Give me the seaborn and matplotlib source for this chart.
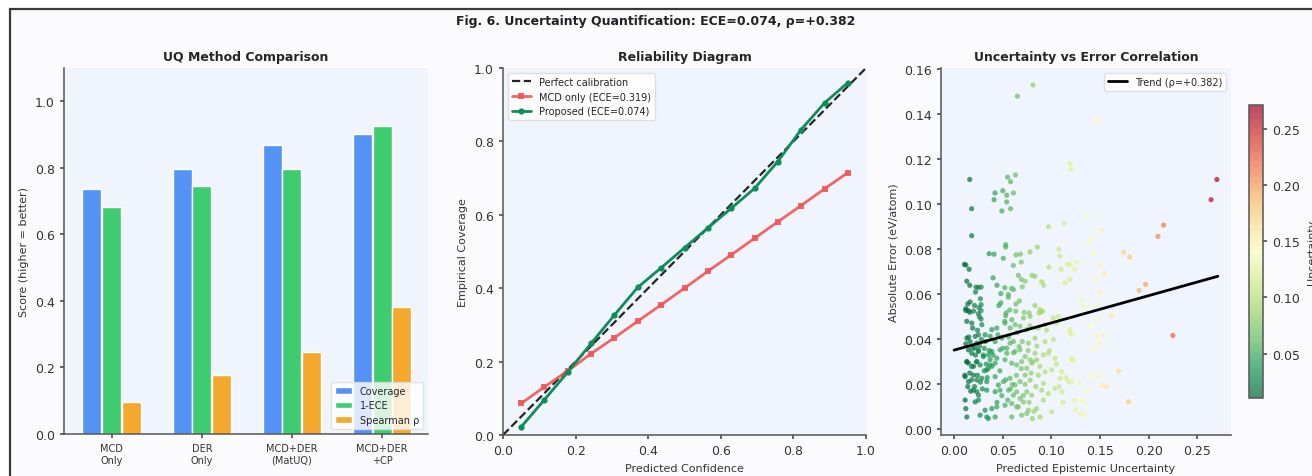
import matplotlib
matplotlib.use("Agg")
import matplotlib.pyplot as plt
import matplotlib.patches as mpatches
from matplotlib.colors import Normalize
from matplotlib.cm import ScalarMappable
import seaborn as sns
import pandas as pd

# --- datos panel 1: comparacion de metodos ---
metodos = ["MCD\nOnly", "DER\nOnly", "MCD+DER\n(MatUQ)", "MCD+DER\n+CP"]
coverage = [0.737, 0.796, 0.868, 0.903]
uno_menos_ece = [0.681, 0.746, 0.796, 0.926]
spearman = [0.097, 0.176, 0.247, 0.382]

# --- datos panel 2: diagrama de fiabilidad ---
confianza = [0.050, 0.114, 0.179, 0.243, 0.307, 0.371, 0.436, 0.500,
             0.564, 0.629, 0.693, 0.757, 0.821, 0.886, 0.950]
cob_mcd = [0.086, 0.131, 0.175, 0.222, 0.265, 0.310, 0.355, 0.400,
           0.446, 0.491, 0.536, 0.581, 0.625, 0.671, 0.715]
cob_propuesto = [0.022, 0.096, 0.172, 0.250, 0.327, 0.402, 0.456, 0.510,
                 0.564, 0.618, 0.672, 0.745, 0.832, 0.905, 0.960]

# --- datos panel 3: incertidumbre vs error ---
incert = [
    0.081, 0.065, 0.148, 0.119, 0.120, 0.270, 0.264, 0.016, 0.018, 0.018,
    0.055, 0.058, 0.063, 0.042, 0.050, 0.061, 0.041, 0.054, 0.054, 0.049, 0.058,
    0.097, 0.113, 0.053, 0.053, 0.036, 0.041, 0.0505, 0.0635, 0.068, 0.078, 0.0855, 0.1076, 0.1086,
    0.0106, 0.0154, 0.012, 0.0608, 0.069, 0.0973, 0.110, 0.1165,
    0.013, 0.066, 0.069, 0.073, 0.080, 0.083, 0.040, 0.044, 0.090, 0.092, 0.114, 0.119,
    0.0225, 0.0277, 0.048, 0.052, 0.059, 0.061, 0.070,
    0.048, 0.0635, 0.0557, 0.0557,
    0.014, 0.0164, 0.0277, 0.0256, 0.012, 0.0147, 0.0277,
    0.088, 0.090, 0.0533, 0.077,
    0.1366, 0.1513, 0.142, 0.1387, 0.2152, 0.2094, 0.1434, 0.1742, 0.1803,
    0.1257, 0.1189, 0.124, 0.1189, 0.1496, 0.1547, 0.1452, 0.1967, 0.19, 0.1496,
    0.1308, 0.1332, 0.1427, 0.1616,
    0.149, 0.1404, 0.2247, 0.1462, 0.153, 0.149, 0.1434, 0.1206, 0.1223, 0.169,
    0.141, 0.149, 0.1206, 0.129, 0.1366, 0.1513, 0.1564, 0.1793, 0.124, 0.1318,
    0.134, 0.1247, 0.130, 0.1332, 0.1189,
    0.0120, 0.0199, 0.0250, 0.0277, 0.0530, 0.0592, 0.0633, 0.0712, 0.0780, 0.0872,
    0.0906, 0.1019, 0.1071,
    0.0181, 0.0284, 0.0387, 0.0438, 0.0523, 0.0575, 0.0626, 0.0677, 0.0746, 0.0865,
    0.0934, 0.1054, 0.1190,
    0.0130, 0.0164, 0.0216, 0.0250, 0.0233, 0.0318, 0.0370, 0.0421, 0.0489, 0.0575,
    0.0541, 0.0609, 0.0667, 0.0763, 0.0831, 0.0934, 0.1207,
    0.0147, 0.0181, 0.0216, 0.0250, 0.0301, 0.0352, 0.0387, 0.0438, 0.0472, 0.0541,
    0.0626, 0.0677, 0.0729, 0.0780, 0.0831, 0.0917, 0.0968, 0.1036, 0.1207,
    0.0130, 0.0147, 0.0181, 0.0233, 0.0267, 0.0335, 0.0370, 0.0421, 0.0523, 0.0592,
    0.0643, 0.0694, 0.0746, 0.0797, 0.0848, 0.0934, 0.1002, 0.1105,
    0.0113, 0.0147, 0.0199, 0.0233, 0.0284, 0.0335, 0.0421, 0.0455, 0.0506, 0.0575,
    0.0626, 0.0677, 0.0729, 0.0780, 0.0865, 0.0917, 0.1088, 0.1173,
    0.0113, 0.0199, 0.0233, 0.0250, 0.0335, 0.0421, 0.0472, 0.0558, 0.0609, 0.0643,
    0.0677, 0.0746, 0.0797, 0.0900, 0.0968, 0.1036, 0.1105,
    0.0120, 0.0216, 0.0250, 0.0318, 0.0387, 0.0438, 0.0523, 0.0592, 0.0643, 0.0712,
    0.0763, 0.0848, 0.0917, 0.1002,
    0.0130, 0.0267, 0.0335, 0.0352, 0.0421, 0.0592, 0.0694, 0.0746, 0.0804, 0.0882,
    0.012, 0.015, 0.019, 0.022, 0.026, 0.028, 0.031, 0.033, 0.035, 0.037,
    0.013, 0.016, 0.018, 0.021, 0.024, 0.027, 0.029, 0.031, 0.034, 0.039,
    0.011, 0.014, 0.017, 0.020, 0.023, 0.025, 0.030, 0.032, 0.036, 0.040,
    0.019, 0.024, 0.013, 0.016, 0.021, 0.026, 0.022, 0.027, 0.025, 0.016,
    0.045, 0.050, 0.056, 0.061, 0.065, 0.070, 0.076, 0.081, 0.085, 0.047,
    0.053, 0.058, 0.064, 0.069, 0.073, 0.079, 0.084, 0.088, 0.044, 0.049,
    0.055, 0.060, 0.066, 0.071, 0.077, 0.082, 0.046, 0.052, 0.057, 0.067,
    0.072, 0.078, 0.083, 0.095, 0.098, 0.102, 0.105, 0.108, 0.112, 0.115,
]
error_abs = [
    0.153, 0.148, 0.137, 0.118, 0.1155, 0.111, 0.102, 0.111, 0.098, 0.086,
    0.112, 0.110, 0.113, 0.105, 0.106, 0.105, 0.102, 0.104, 0.101, 0.097, 0.098,
    0.090, 0.0915, 0.082, 0.081, 0.078, 0.0778, 0.076, 0.0775, 0.0778, 0.0788, 0.081, 0.080, 0.077,
    0.0733, 0.0711, 0.073, 0.0728, 0.0743, 0.0721, 0.0711, 0.0733,
    0.0658, 0.0684, 0.0666, 0.0658, 0.0684, 0.068, 0.0673, 0.064, 0.0656, 0.064, 0.0651, 0.0666,
    0.0632, 0.0632, 0.0603, 0.0629, 0.0626, 0.0621, 0.0633,
    0.0562, 0.0557, 0.0599, 0.0587,
    0.0557, 0.0566, 0.0554, 0.054, 0.0536, 0.0527, 0.0527,
    0.0532, 0.0521, 0.0517, 0.0517,
    0.0944, 0.0885, 0.0855, 0.0837, 0.0907, 0.0857, 0.0785, 0.0787, 0.0766,
    0.0743, 0.0733, 0.0711, 0.0666, 0.0728, 0.0691, 0.0669, 0.0644, 0.0617, 0.0609,
    0.0577, 0.0547, 0.0547, 0.0505,
    0.049, 0.0462, 0.0417, 0.0416, 0.0416, 0.0383, 0.0359, 0.0316, 0.0308, 0.0259,
    0.0234, 0.0234, 0.0211, 0.0204, 0.0174, 0.0194, 0.0192, 0.0122, 0.013, 0.013,
    0.0118, 0.0088, 0.007, 0.0063, 0.0429,
    0.0528, 0.0525, 0.0514, 0.0490, 0.0505, 0.0487, 0.0525, 0.0495, 0.0502, 0.0517,
    0.0525, 0.0495, 0.0502,
    0.0472, 0.0465, 0.0443, 0.0450, 0.0472, 0.0450, 0.0465, 0.0458, 0.0443, 0.0450,
    0.0465, 0.0472, 0.0443,
    0.0405, 0.0390, 0.0413, 0.0420, 0.0383, 0.0420, 0.0413, 0.0390, 0.0405, 0.0383,
    0.0361, 0.0390, 0.0368, 0.0383, 0.0405, 0.0390, 0.0420,
    0.0353, 0.0338, 0.0361, 0.0346, 0.0323, 0.0331, 0.0346, 0.0316, 0.0353, 0.0338,
    0.0346, 0.0353, 0.0323, 0.0309, 0.0338, 0.0331, 0.0338, 0.0316, 0.0309,
    0.0301, 0.0294, 0.0279, 0.0301, 0.0286, 0.0264, 0.0286, 0.0294, 0.0309, 0.0294,
    0.0286, 0.0301, 0.0271, 0.0294, 0.0309, 0.0256, 0.0264, 0.0256,
    0.0234, 0.0212, 0.0241, 0.0219, 0.0227, 0.0212, 0.0234, 0.0197, 0.0212, 0.0227,
    0.0197, 0.0212, 0.0241, 0.0219, 0.0241, 0.0204, 0.0227, 0.0212,
    0.0130, 0.0174, 0.0167, 0.0152, 0.0174, 0.0167, 0.0174, 0.0174, 0.0152, 0.0167,
    0.0137, 0.0167, 0.0152, 0.0174, 0.0159, 0.0182, 0.0167,
    0.0092, 0.0122, 0.0130, 0.0085, 0.0092, 0.0100, 0.0107, 0.0115, 0.0100, 0.0122,
    0.0085, 0.0092, 0.0130, 0.0078,
    0.0055, 0.0063, 0.0055, 0.0048, 0.0055, 0.0055, 0.0063, 0.0070, 0.0048, 0.0055,
    0.038, 0.041, 0.036, 0.033, 0.037, 0.040, 0.036, 0.029, 0.027, 0.031,
    0.030, 0.025, 0.022, 0.019, 0.024, 0.021, 0.018, 0.026, 0.023, 0.028,
    0.024, 0.019, 0.017, 0.028, 0.030, 0.035, 0.033, 0.039, 0.035, 0.033,
    0.045, 0.044, 0.048, 0.052, 0.055, 0.050, 0.061, 0.058, 0.063, 0.064,
    0.042, 0.036, 0.041, 0.034, 0.043, 0.039, 0.035, 0.030, 0.037, 0.026,
    0.022, 0.018, 0.024, 0.027, 0.020, 0.025, 0.019, 0.028, 0.012, 0.015,
    0.013, 0.020, 0.010, 0.015, 0.012, 0.008, 0.055, 0.048, 0.053, 0.057,
    0.052, 0.046, 0.055, 0.044, 0.035, 0.040, 0.029, 0.019, 0.012, 0.023,
]
tendencia_x = [0.0, 0.271]
tendencia_y = [0.0352, 0.0680]

# --- estilo ---
sns.set_theme(style="ticks")
plt.rcParams["font.family"] = ["DejaVu Sans"]
plt.rcParams["axes.facecolor"] = "#f0f4fd"
plt.rcParams["axes.edgecolor"] = "#555555"
plt.rcParams["axes.linewidth"] = 1.1
plt.rcParams["xtick.color"] = "#555555"
plt.rcParams["ytick.color"] = "#555555"
plt.rcParams["xtick.labelcolor"] = "#333333"
plt.rcParams["ytick.labelcolor"] = "#333333"

TIT = 9
LAB = 8
TICK = 9
LEG = 7

fig = plt.figure(figsize=(13.12, 4.77), dpi=100, facecolor="white")

# marco de la captura (por detras de todo)
fig.patches.append(mpatches.Rectangle((10 / 1312, -0.1), 1.2, 1.1 - 10 / 477,
                                      transform=fig.transFigure, facecolor="#fbfbfd",
                                      edgecolor="#3a3a3a", linewidth=1.6, zorder=-10))

fig.text(0.5, 1 - 22 / 477, "Fig. 6. Uncertainty Quantification: ECE=0.074, ρ=+0.382",
         ha="center", va="center", fontsize=TIT, fontweight="bold", color="#222222")

ax1 = fig.add_axes([64 / 1312, 42 / 477, 364 / 1312, 366 / 477])
ax2 = fig.add_axes([503 / 1312, 41 / 477, 363 / 1312, 367 / 477])
ax3 = fig.add_axes([941 / 1312, 41 / 477, 290 / 1312, 367 / 477])
cax = fig.add_axes([1249 / 1312, 78 / 477, 14 / 1312, 293 / 477])

# --- 1. barras ---
df_barras = pd.DataFrame({
    "Metodo": metodos * 3,
    "Score": coverage + uno_menos_ece + spearman,
    "Metrica": ["Coverage"] * 4 + ["1-ECE"] * 4 + ["Spearman ρ"] * 4,
})
sns.barplot(data=df_barras, x="Metodo", y="Score", hue="Metrica",
            palette=["#5592f5", "#3fcb6f", "#f5a82e"], width=0.66, gap=0.04,
            saturation=1, ax=ax1)
ax1.set_ylim(0, 1.1)
ax1.set_xlim(-0.53, 3.51)
ax1.set_title("UQ Method Comparison", fontsize=TIT, fontweight="bold", pad=6)
ax1.set_ylabel("Score (higher = better)", fontsize=LAB, color="#333333")
ax1.set_xlabel("")
ax1.tick_params(axis="x", labelsize=7, length=3)
ax1.tick_params(axis="y", labelsize=TICK, length=3)
ax1.legend(loc="lower right", fontsize=LEG, frameon=True, framealpha=0.8,
           facecolor="white", edgecolor="#dddddd", handlelength=1.8)

# --- 2. diagrama de fiabilidad ---
ax2.plot([0, 1], [0, 1], linestyle="--", color="black", linewidth=1.6, alpha=0.85,
         label="Perfect calibration")
sns.lineplot(x=confianza, y=cob_mcd, color="#f05656", marker="s", markersize=4.5,
             markeredgewidth=0, linewidth=2, alpha=0.9, label="MCD only (ECE=0.319)", ax=ax2)
sns.lineplot(x=confianza, y=cob_propuesto, color="#0f8c5c", marker="o", markersize=4.5,
             markeredgewidth=0, linewidth=2, label="Proposed (ECE=0.074)", ax=ax2)
ax2.set_xlim(0, 1)
ax2.set_ylim(0, 1)
ax2.set_title("Reliability Diagram", fontsize=TIT, fontweight="bold", pad=6)
ax2.set_xlabel("Predicted Confidence", fontsize=LAB, color="#333333")
ax2.set_ylabel("Empirical Coverage", fontsize=LAB, color="#333333")
ax2.tick_params(labelsize=TICK, length=3)
ax2.legend(loc="upper left", fontsize=LEG, frameon=True, facecolor="white",
           edgecolor="#dddddd", framealpha=0.9)

# --- 3. incertidumbre vs error ---
vmin, vmax = 0.0104, 0.2714
norma = Normalize(vmin=vmin, vmax=vmax)
df_sc = pd.DataFrame({"u": incert, "e": error_abs})
sns.scatterplot(data=df_sc, x="u", y="e", hue="u", palette="RdYlGn_r", hue_norm=norma,
                s=14, alpha=0.7, linewidth=0, legend=False, ax=ax3)
sns.lineplot(x=tendencia_x, y=tendencia_y, color="black", linewidth=2,
             label="Trend (ρ=+0.382)", ax=ax3)
ax3.set_xlim(-0.0135, 0.2845)
ax3.set_ylim(-0.0025, 0.1605)
ax3.set_xticks([0, 0.05, 0.10, 0.15, 0.20, 0.25])
ax3.set_yticks([0, 0.02, 0.04, 0.06, 0.08, 0.10, 0.12, 0.14, 0.16])
ax3.set_title("Uncertainty vs Error Correlation", fontsize=TIT, fontweight="bold", pad=6)
ax3.set_xlabel("Predicted Epistemic Uncertainty", fontsize=LAB, color="#333333")
ax3.set_ylabel("Absolute Error (eV/atom)", fontsize=LAB, color="#333333")
ax3.tick_params(labelsize=TICK, length=3)
ax3.legend(loc="upper right", fontsize=LEG, frameon=True, facecolor="white",
           edgecolor="#dddddd", framealpha=0.9)

sm = ScalarMappable(norm=norma, cmap="RdYlGn_r")
cbar = fig.colorbar(sm, cax=cax, alpha=0.7)
cbar.set_ticks([0.05, 0.10, 0.15, 0.20, 0.25])
cbar.ax.tick_params(labelsize=TICK, length=3)
cbar.outline.set_edgecolor("#555555")
cbar.set_label("Uncertainty", fontsize=LAB, color="#333333")
cbar.ax.yaxis.set_label_coords(4.15, 0.5)

for ax in (ax1, ax2, ax3):
    sns.despine(ax=ax)

fig.savefig("out.png", dpi=100, facecolor=fig.get_facecolor())
